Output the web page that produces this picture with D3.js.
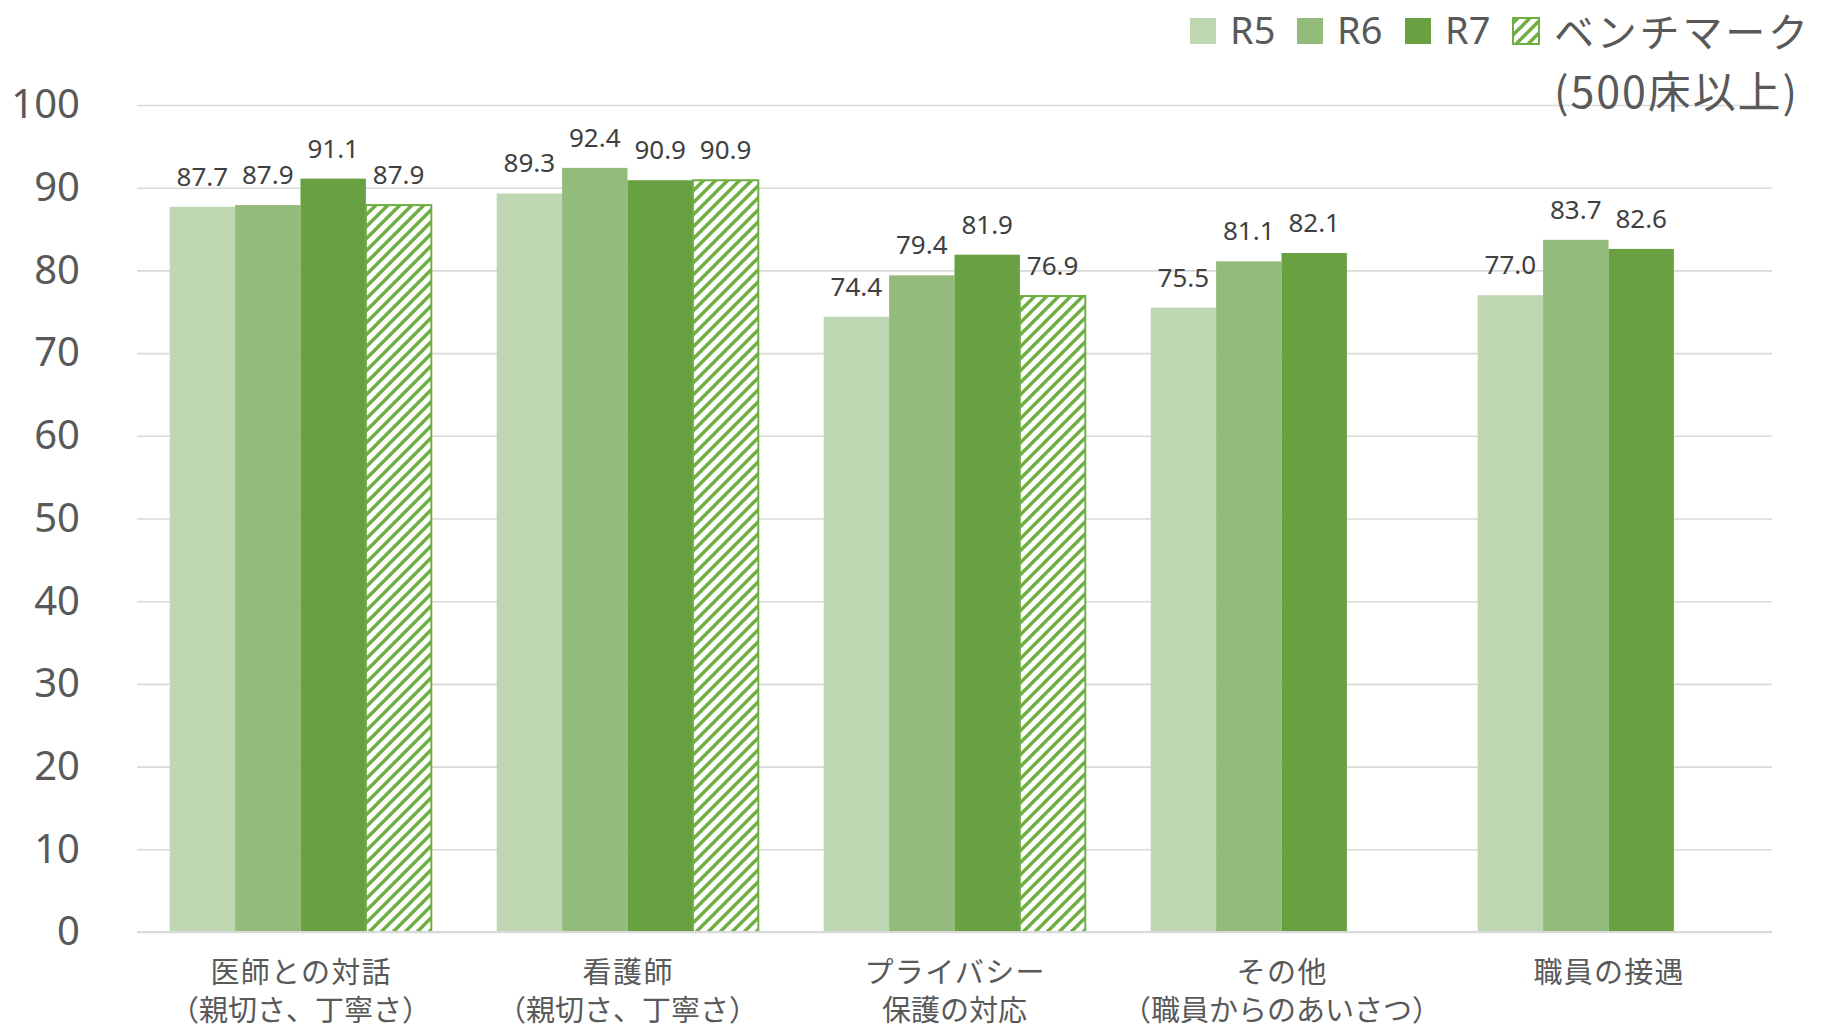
<!DOCTYPE html>
<html>
<head>
<meta charset="utf-8">
<script src="https://cdn.jsdelivr.net/npm/d3@7"></script>
<style>
  body { margin: 0; background: #fff; }
  svg { display: block; }
</style>
</head>
<body>
<div id="chart"></div>
<script>
// categories (two lines each)
const categories = ["医師との対話", "看護師", "プライバシー", "その他", "職員の接遇"];
const categorySub = ["（親切さ、丁寧さ）", "（親切さ、丁寧さ）", "保護の対応", "（職員からのあいさつ）", ""];

const seriesNames = ["R5", "R6", "R7", "ベンチマーク"];
const r5 = [87.7, 89.3, 74.4, 75.5, 77.0];
const r6 = [87.9, 92.4, 79.4, 81.1, 83.7];
const r7 = [91.1, 90.9, 81.9, 82.1, 82.6];
const bench = [87.9, 90.9, 76.9, null, null];
const yTicks = [0, 10, 20, 30, 40, 50, 60, 70, 80, 90, 100];

const colors = { "R5": "#bfd6b2", "R6": "#93bb7b", "R7": "#69a142", "ベンチマーク": "#6eae43" };

const W = 1825, H = 1031;
const margin = { top: 105, right: 53, bottom: 99, left: 137 };

const svg = d3.select("#chart").append("svg")
    .attr("width", W)
    .attr("height", H);

// hatch pattern for benchmark
const defs = svg.append("defs");
const pat = defs.append("pattern")
    .attr("id", "hatch")
    .attr("patternUnits", "userSpaceOnUse")
    .attr("width", 12)
    .attr("height", 12);
pat.append("rect").attr("width", 12).attr("height", 12).attr("fill", "#fff");
pat.append("path")
    .attr("d", "M-3,3 L3,-3 M0,12 L12,0 M9,15 L15,9")
    .attr("stroke", colors["ベンチマーク"])
    .attr("stroke-width", 3.4);

const rows = categories.map((c, i) => ({
    cat: c,
    values: [
        { key: "R5", v: r5[i] },
        { key: "R6", v: r6[i] },
        { key: "R7", v: r7[i] },
        { key: "ベンチマーク", v: bench[i] }
    ]
}));

const x0 = d3.scaleBand()
    .domain(categories)
    .range([margin.left, W - margin.right])
    .padding(0);

const x1 = d3.scaleBand()
    .domain(seriesNames)
    .range([0, x0.bandwidth()])
    .paddingInner(0)
    .paddingOuter(0.5);

const y = d3.scaleLinear()
    .domain([0, 100])
    .range([H - margin.bottom, margin.top]);

// gridlines + y labels
const yAxis = svg.append("g")
    .attr("transform", `translate(${margin.left},0)`)
    .call(d3.axisLeft(y).tickValues(yTicks).tickSize(-(W - margin.left - margin.right)).tickPadding(57));
yAxis.select(".domain").remove();
yAxis.selectAll(".tick line").attr("stroke", "#d9d9d9").attr("stroke-width", 1.6);
yAxis.selectAll(".tick text")
    .attr("fill", "#595959")
    .style("font-family", "'Noto Sans', sans-serif")
    .style("font-size", "40px");

// bars
const groups = svg.append("g").selectAll("g")
    .data(rows)
    .enter().append("g")
    .attr("transform", d => `translate(${x0(d.cat)},0)`);

groups.selectAll("rect")
    .data(d => d.values.filter(v => v.v != null))
    .enter().append("rect")
    .attr("x", d => x1(d.key))
    .attr("width", x1.bandwidth())
    .attr("y", d => y(d.v))
    .attr("height", d => y(0) - y(d.v))
    .attr("fill", d => d.key === "ベンチマーク" ? "url(#hatch)" : colors[d.key])
    .attr("stroke", d => d.key === "ベンチマーク" ? colors["ベンチマーク"] : "none")
    .attr("stroke-width", 2);

// data labels
groups.selectAll("text")
    .data(d => d.values.filter(v => v.v != null))
    .enter().append("text")
    .attr("x", d => x1(d.key) + x1.bandwidth() / 2)
    .attr("y", d => y(d.v) - 21)
    .attr("text-anchor", "middle")
    .attr("fill", "#404040")
    .style("font-family", "'Noto Sans', sans-serif")
    .style("font-size", "26px")
    .text(d => d3.format(".1f")(d.v));

// x axis line
svg.append("line")
    .attr("x1", margin.left)
    .attr("x2", W - margin.right)
    .attr("y1", y(0))
    .attr("y2", y(0))
    .attr("stroke", "#d9d9d9")
    .attr("stroke-width", 2);

// category labels, one text per line
const catG = svg.append("g")
    .attr("fill", "#595959")
    .attr("text-anchor", "middle")
    .style("font-family", "'Noto Sans CJK JP', sans-serif")
    .style("font-size", "29px");
catG.selectAll("text.l1")
    .data(categories)
    .enter().append("text")
    .attr("class", "l1")
    .attr("x", d => x0(d) + x0.bandwidth() / 2)
    .attr("y", 983)
    .attr("textLength", d => d.length * 30)
    .text(d => d);
catG.selectAll("text.l2")
    .data(categories)
    .enter().append("text")
    .attr("class", "l2")
    .attr("x", d => x0(d) + x0.bandwidth() / 2)
    .attr("y", 1021)
    .text((d, i) => categorySub[i]);

// legend
const legendX = [1190, 1297, 1405, 1513];
const legend = svg.append("g");
seriesNames.forEach((s, i) => {
    legend.append("rect")
        .attr("x", legendX[i])
        .attr("y", 18)
        .attr("width", 26)
        .attr("height", 26)
        .attr("fill", s === "ベンチマーク" ? "url(#hatch)" : colors[s])
        .attr("stroke", s === "ベンチマーク" ? colors[s] : "none")
        .attr("stroke-width", 2);
    if (s !== "ベンチマーク") {
        legend.append("text")
            .attr("x", legendX[i] + 40)
            .attr("y", 44)
            .attr("fill", "#595959")
            .style("font-family", "'Noto Sans', sans-serif")
            .style("font-size", "38px")
            .text(s);
    }
});
legend.append("text")
    .attr("x", 1554)
    .attr("y", 47)
    .attr("fill", "#595959")
    .attr("textLength", 254)
    .style("font-family", "'Noto Sans CJK JP', sans-serif")
    .style("font-size", "40px")
    .text("ベンチマーク");
legend.append("text")
    .attr("x", 1554)
    .attr("y", 108)
    .attr("fill", "#595959")
    .attr("textLength", 243)
    .style("font-family", "'Noto Sans CJK JP', sans-serif")
    .style("font-size", "43px")
    .text("(500床以上)");
</script>
</body>
</html>
